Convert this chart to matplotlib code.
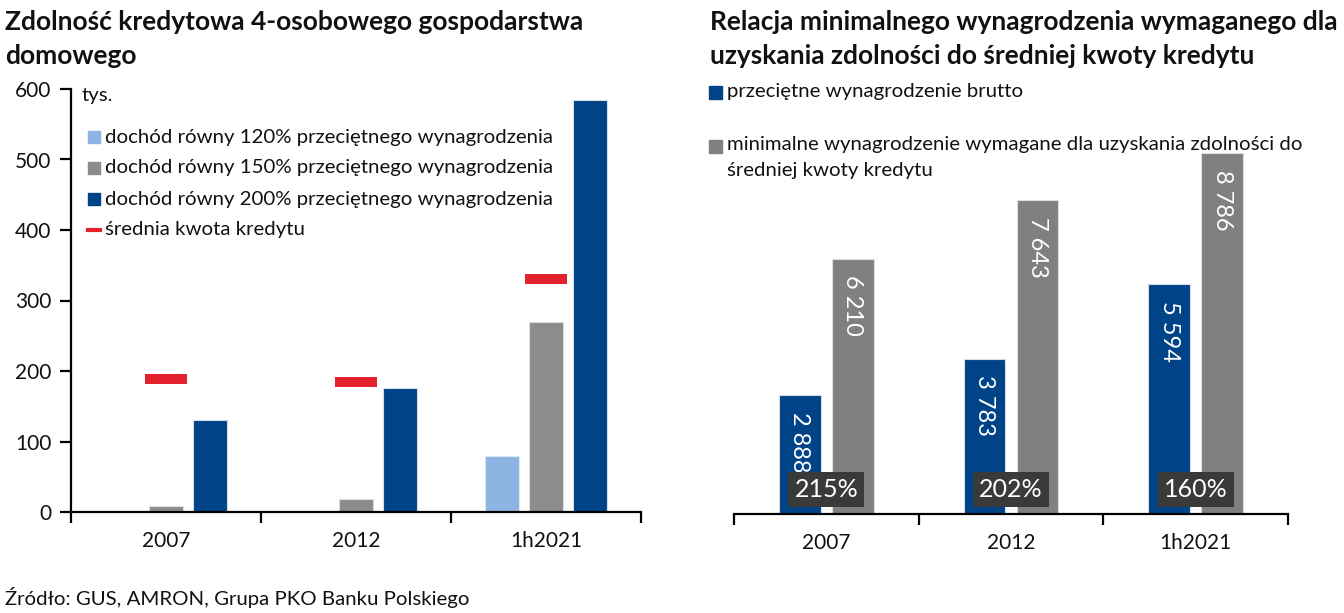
import numpy as np
import matplotlib.pyplot as plt
from matplotlib.patches import Rectangle
from matplotlib.lines import Line2D

plt.rcParams["font.family"] = ["Lato", "DejaVu Sans"]

W, H = 1344, 613

# --- data: left panel (thousand PLN) ---
years = ["2007", "2012", "1h2021"]
cap_120 = [0, 0, 79]
cap_150 = [9, 19, 269]
cap_200 = [130, 176, 584]
avg_loan = [189, 184, 330]
left_labels = [
    "dochód równy 120% przeciętnego wynagrodzenia",
    "dochód równy 150% przeciętnego wynagrodzenia",
    "dochód równy 200% przeciętnego wynagrodzenia",
    "średnia kwota kredytu",
]

# --- data: right panel (PLN) ---
avg_wage = [2888, 3783, 5594]
min_wage = [6210, 7643, 8786]
ratio_labels = ["215%", "202%", "160%"]
right_labels = [
    "przeciętne wynagrodzenie brutto",
    "minimalne wynagrodzenie wymagane dla uzyskania zdolności do",
    "średniej kwoty kredytu",
]

LIGHT_BLUE = "#8db4e2"
GRAY_L = "#8c8c8c"
GRAY_R = "#808080"
NAVY = "#004487"
RED = "#e3222d"
BOX = "#3a3a3a"
TXT = "#111111"
FS = 14.7


def fx(px):
    return px / W


def fy(py):
    return 1 - py / H


def style_axis(ax):
    for s in ("top", "right"):
        ax.spines[s].set_visible(False)
    ax.spines["bottom"].set_linewidth(1.6)
    ax.set_xlim(-0.5, 2.5)
    ax.set_xticks(range(3))
    ax.set_xticklabels(years, fontsize=15, color=TXT)
    ax.tick_params(axis="x", which="major", length=0, pad=14)
    ax.set_xticks([-0.5, 0.5, 1.5, 2.5], minor=True)
    ax.tick_params(axis="x", which="minor", length=8, width=1.6, direction="out")


fig = plt.figure(figsize=(W / 100, H / 100), dpi=100)

# ---------------- left panel ----------------
axL = fig.add_axes([fx(71), fy(512), fx(641 - 71), (512 - 89) / H])
x = np.arange(3)
bw, off = 0.18, 0.232
axL.bar(x - off, cap_120, bw, color=LIGHT_BLUE, edgecolor="#dde6f2", lw=0.8)
axL.bar(x, cap_150, bw, color=GRAY_L, edgecolor="#dddddd", lw=0.8)
axL.bar(x + off, cap_200, bw, color=NAVY, edgecolor="#d5dcea", lw=0.8)
axL.hlines(avg_loan, x - 0.108, x + 0.108, color=RED, lw=7.2, capstyle="butt")
axL.set_ylim(0, 600)
axL.set_yticks(range(0, 601, 100))
axL.tick_params(axis="y", length=8, width=1.6, labelsize=15, labelcolor=TXT, pad=6)
axL.spines["left"].set_linewidth(1.6)
style_axis(axL)

fig.text(fx(82), fy(96), "tys.", fontsize=FS, color=TXT, va="center")
leg_y = [137, 168, 199]
for yy, col in zip(leg_y, [LIGHT_BLUE, GRAY_L, NAVY]):
    fig.patches.append(Rectangle((fx(88), fy(yy + 6)), fx(12), 12 / H,
                                 transform=fig.transFigure, color=col))
fig.lines.append(Line2D([fx(88), fx(100)], [fy(230), fy(230)],
                        transform=fig.transFigure, color=RED, lw=3))
for yy, lab in zip(leg_y + [230], left_labels):
    fig.text(fx(105), fy(yy), lab, fontsize=FS, color=TXT, va="center")

# ---------------- right panel ----------------
axR = fig.add_axes([fx(734), fy(514), fx(1288 - 734), 411 / H])
bw2, off2 = 0.227, 0.1435
axR.bar(x - off2, avg_wage, bw2, color=NAVY, edgecolor="#d5dcea", lw=0.8)
axR.bar(x + off2, min_wage, bw2, color=GRAY_R, edgecolor="#dddddd", lw=0.8)
axR.set_ylim(0, 10000)
axR.spines["left"].set_visible(False)
axR.set_yticks([])
style_axis(axR)

for xs, vals in ((x - off2, avg_wage), (x + off2, min_wage)):
    for xi, v in zip(xs, vals):
        axR.annotate(f"{v:,}".replace(",", " "), (xi, v), xytext=(0, -12),
                     textcoords="offset points", rotation=270, ha="center",
                     va="top", color="white", fontsize=17)
for xi, lab in zip(x, ratio_labels):
    axR.annotate(lab, (xi, 0), xytext=(0, 17.5), textcoords="offset points",
                 ha="center", va="center", color="white", fontsize=18,
                 bbox=dict(boxstyle="square,pad=0.25", fc=BOX, ec="none"))

for yy, col in zip([92, 146], [NAVY, GRAY_R]):
    fig.patches.append(Rectangle((fx(709), fy(yy + 6.5)), fx(13), 13 / H,
                                 transform=fig.transFigure, color=col))
for yy, lab in zip([92, 145, 171], right_labels):
    fig.text(fx(727), fy(yy), lab, fontsize=FS, color=TXT, va="center")

# ---------------- titles & source ----------------
fig.text(fx(5), fy(39), "Zdolność kredytowa 4-osobowego gospodarstwa\ndomowego",
         fontsize=19, weight="bold", color=TXT, va="center", linespacing=1.5)
fig.text(fx(710), fy(39),
         "Relacja minimalnego wynagrodzenia wymaganego dla\nuzyskania zdolności do średniej kwoty kredytu",
         fontsize=19, weight="bold", color=TXT, va="center", linespacing=1.5)
fig.text(fx(5), fy(598), "Źródło: GUS, AMRON, Grupa PKO Banku Polskiego",
         fontsize=FS, color=TXT, va="center")

fig.savefig("out.png", dpi=100)
